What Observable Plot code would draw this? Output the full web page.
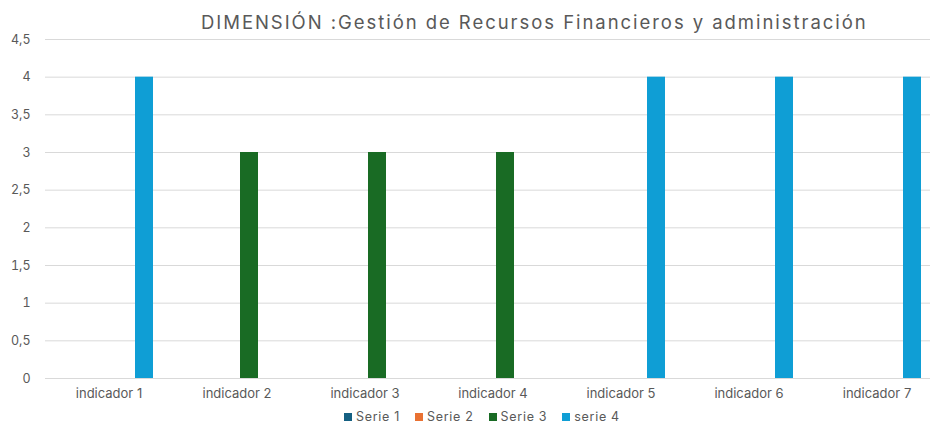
<!DOCTYPE html>
<html>
<head>
<meta charset="utf-8">
<script src="https://cdn.jsdelivr.net/npm/d3@7"></script>
<script src="https://cdn.jsdelivr.net/npm/@observablehq/plot@0.6"></script>
<style>
  html, body { margin: 0; padding: 0; background: #fff; overflow: hidden; }
  #wrap { position: relative; width: 930px; height: 423px; overflow: hidden; font-family: Inter, "Open Sans", sans-serif; }
  #title { position: absolute; left: 201px; top: 11px; font-size: 18.5px; line-height: 22px; letter-spacing: 1.95px; color: #595959; white-space: nowrap; }
  #legend { position: absolute; left: 344px; top: 410px; height: 14px; display: flex; align-items: center; font-size: 12.5px; line-height: 14px; letter-spacing: 0.7px; color: #595959; white-space: nowrap; }
  #legend span.item { display: flex; align-items: center; margin-right: 15px; }
  #legend span.sw { display: inline-block; width: 8px; height: 8px; margin-right: 4px; }
  #chart { position: absolute; left: 0; top: 0; width: 941px; }
</style>
</head>
<body>
<div id="wrap">
  <div id="chart"></div>
  <div id="title"></div>
  <div id="legend"></div>
</div>
<script>
const titleText = "DIMENSIÓN :Gestión de Recursos Financieros y administración";
const categories = ["indicador 1", "indicador 2", "indicador 3", "indicador 4", "indicador 5", "indicador 6", "indicador 7"];
const seriesNames = ["Serie 1", "Serie 2", "Serie 3", "serie 4"];
const serie1 = [0, 0, 0, 0, 0, 0, 0];
const serie2 = [0, 0, 0, 0, 0, 0, 0];
const serie3 = [0, 3, 3, 3, 0, 0, 0];
const serie4 = [4, 0, 0, 0, 4, 4, 4];
const colors = ["#156082", "#E97132", "#196B24", "#0F9ED5"];
const yTicks = [0, 0.5, 1, 1.5, 2, 2.5, 3, 3.5, 4, 4.5];

const allSeries = [serie1, serie2, serie3, serie4];
const rows = [];
categories.forEach((c, i) => {
  seriesNames.forEach((s, j) => rows.push({cat: c, serie: s, value: allSeries[j][i]}));
});

const fmt = v => String(v).replace(".", ",");

const chart = Plot.plot({
  width: 941,
  height: 423,
  marginTop: 39,
  marginBottom: 45,
  marginLeft: 45,
  marginRight: 0,
  style: {fontFamily: "Inter, 'Open Sans', sans-serif", fontSize: "12.5px", color: "#595959", background: "white", maxWidth: "none"},
  fx: {domain: categories, paddingInner: 0, paddingOuter: 0, label: null},
  x: {domain: seriesNames, paddingInner: 0.221, paddingOuter: 0.834, axis: null},
  y: {domain: [0, 4.5], label: null},
  color: {domain: seriesNames, range: colors},
  marks: [
    Plot.gridY(yTicks, {stroke: "#d9d9d9", strokeOpacity: 1}),
    Plot.axisY(yTicks, {tickSize: 0, tickPadding: 15, tickFormat: fmt, fill: "#595959", label: null}),
    Plot.axisFx({anchor: "bottom", tickSize: 0, tickPadding: 10, fill: "#595959", label: null, fontSize: 13, dx: -0.5, style: {letterSpacing: "1px"}}),
    Plot.barY(rows, {fx: "cat", x: "serie", y: "value", fill: "serie"})
  ]
});
chart.style.maxWidth = "none";
chart.style.width = "941px";
chart.style.height = "423px";
document.getElementById("chart").appendChild(chart);
document.getElementById("title").textContent = titleText;

const legend = document.getElementById("legend");
seriesNames.forEach((s, j) => {
  const item = document.createElement("span");
  item.className = "item";
  const sw = document.createElement("span");
  sw.className = "sw";
  sw.style.background = colors[j];
  item.appendChild(sw);
  item.appendChild(document.createTextNode(s));
  legend.appendChild(item);
});
</script>
</body>
</html>
